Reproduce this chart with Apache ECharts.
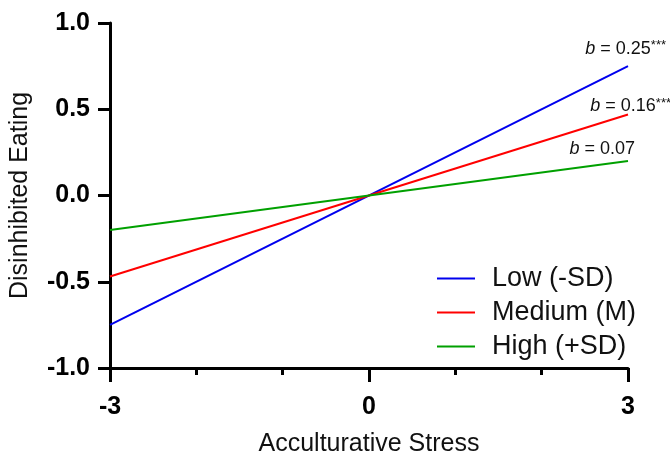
<!DOCTYPE html>
<html>
<head>
<meta charset="utf-8">
<script src="https://cdn.jsdelivr.net/npm/echarts@6/dist/echarts.min.js"></script>
<style>html,body{margin:0;padding:0;background:#fff}#c{width:670px;height:453px}</style>
</head>
<body>
<div id="c"></div>
<script>
const xValues = [-3, 3];
const seriesNames = ['Low (-SD)', 'Medium (M)', 'High (+SD)'];
const lowValues = [-0.75, 0.75];
const mediumValues = [-0.47, 0.47];
const highValues = [-0.20, 0.20];
const slopeLabels = ['0.25', '0.16', '0.07'];
const slopeStars = ['***', '***', ''];
const xTickLabels = ['-3', '0', '3'];
const yTicks = [-1.0, -0.5, 0.0, 0.5, 1.0];

const colors = ['#0000ee', '#ff0000', '#00a000'];
const valueSets = [lowValues, mediumValues, highValues];
const labelOffsets = [[38, -17], [43, -8], [7, -12]];
const FONT = '"Liberation Sans", Arial, Helvetica, sans-serif';

const chart = echarts.init(document.getElementById('c'), null, {renderer: 'canvas'});

const series = valueSets.map((vals, i) => ({
  name: seriesNames[i],
  type: 'line',
  xAxisIndex: 0,
  yAxisIndex: 0,
  data: xValues.map((x, k) => [x, vals[k]]),
  showSymbol: false,
  symbol: 'none',
  lineStyle: {color: colors[i], width: 2},
  itemStyle: {color: colors[i]},
  animation: false,
  silent: true,
  markPoint: {
    symbol: 'circle',
    symbolSize: 0,
    silent: true,
    data: [{
      coord: [xValues[1], vals[1]],
      label: {
        show: true,
        position: 'inside',
        offset: labelOffsets[i],
        align: 'right',
        verticalAlign: 'middle',
        formatter: '{i|b} = ' + slopeLabels[i] + (slopeStars[i] ? '{s|' + slopeStars[i] + '}' : ''),
        color: '#111',
        fontFamily: FONT,
        fontSize: 18,
        rich: {
          i: {fontStyle: 'italic', fontSize: 18, fontFamily: FONT, color: '#111'},
          s: {fontSize: 13, fontFamily: FONT, color: '#111', padding: [0, 0, 7, 0]}
        }
      }
    }]
  }
}));

const xMajor = xTickLabels.map(Number);

chart.setOption({
  animation: false,
  backgroundColor: '#fff',
  grid: {left: 110, right: 42, top: 23, bottom: 85, containLabel: false, outerBoundsMode: 'none'},
  legend: {
    data: seriesNames,
    orient: 'vertical',
    left: 432,
    top: 260,
    itemWidth: 38,
    itemHeight: 2,
    itemGap: 7,
    icon: 'rect',
    textStyle: {fontFamily: FONT, fontSize: 27, color: '#111', padding: [0, 0, 0, 12]},
    selectedMode: false
  },
  xAxis: [{
    type: 'value',
    min: -3,
    max: 3,
    interval: 3,
    name: 'Acculturative Stress',
    nameLocation: 'middle',
    nameGap: 64,
    nameTextStyle: {fontFamily: FONT, fontSize: 25, color: '#111'},
    axisLine: {show: true, onZero: false, lineStyle: {color: '#000', width: 3}},
    axisTick: {show: true, length: 14, lineStyle: {color: '#000', width: 3}},
    axisLabel: {
      show: true, margin: 27, fontFamily: FONT, fontSize: 25, fontWeight: 'bold', color: '#000',
      formatter: v => { const k = xMajor.indexOf(v); return k >= 0 ? xTickLabels[k] : ''; }
    },
    splitLine: {show: false}
  }, {
    type: 'value',
    min: -3,
    max: 3,
    interval: 1,
    position: 'bottom',
    axisLine: {show: false, onZero: false},
    axisTick: {show: true, length: 7, lineStyle: {color: '#000', width: 3}},
    axisLabel: {show: false},
    splitLine: {show: false}
  }],
  yAxis: {
    type: 'value',
    min: yTicks[0],
    max: yTicks[yTicks.length - 1],
    interval: 0.5,
    name: 'Disinhibited Eating',
    nameLocation: 'middle',
    nameGap: 77,
    nameTextStyle: {fontFamily: FONT, fontSize: 25, color: '#111'},
    axisLine: {show: true, onZero: false, lineStyle: {color: '#000', width: 3}},
    axisTick: {show: true, length: 12, lineStyle: {color: '#000', width: 3}},
    axisLabel: {margin: 20, fontFamily: FONT, fontSize: 25, fontWeight: 'bold', color: '#000',
      formatter: v => v.toFixed(1)},
    splitLine: {show: false}
  },
  series: series
});
</script>
</body>
</html>
